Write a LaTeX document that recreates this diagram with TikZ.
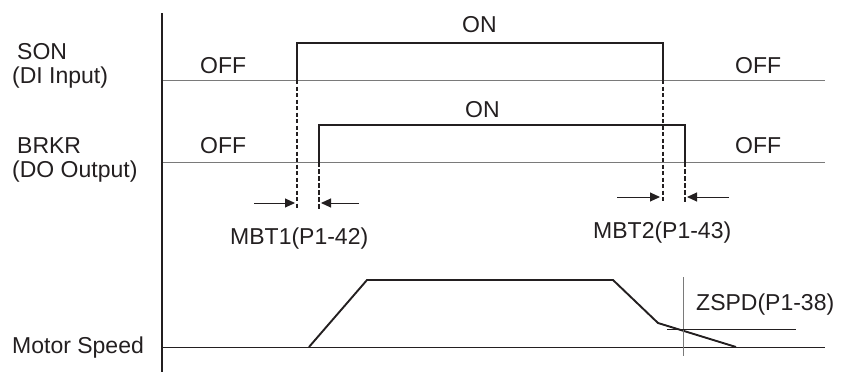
\documentclass[tikz,border=0pt]{standalone}
\usepackage{fontspec}
\setmainfont{Liberation Sans}
\usetikzlibrary{arrows.meta}
\definecolor{ink}{HTML}{231F20}
\definecolor{baseln}{HTML}{7A7A7A}
\begin{document}
\begin{tikzpicture}[x=1pt,y=-1pt,
  lbl/.style={text=ink,inner sep=0pt,anchor=base west,font=\fontsize{23}{27}\selectfont},
  sig/.style={draw=ink,line width=2pt},
  baseline/.style={draw=baseln,line width=1pt},
  axisline/.style={draw=ink,line width=1.2pt},
  guide/.style={draw=ink,line width=1.3pt,dash pattern=on 4pt off 2.5pt},
  guidethick/.style={draw=ink,line width=1.8pt,dash pattern=on 4.5pt off 2.5pt},
  dimarrow/.style={draw=ink,line width=1pt,-{Triangle[length=10pt,width=9pt]}},
  thin/.style={draw=ink,line width=0.9pt},
  thingray/.style={draw=baseln,line width=0.9pt}]
\useasboundingbox (0,0) rectangle (843,372);

% axis
\coordinate (axT) at (162,13);
\coordinate (axB) at (162,372);
\draw[axisline] (axT) -- (axB);

% labels
\node[lbl] (son) at (17,59) {SON};
\node[lbl] (soni) at (12,83) {(DI Input)};
\node[lbl] (brkr) at (17,153) {BRKR};
\node[lbl] (brkro) at (12,177) {(DO Output)};
\node[lbl] (ms) at (12,353) {Motor Speed};

\node[lbl] (off1) at (200,73) {OFF};
\node[lbl] (off2) at (735,73) {OFF};
\node[lbl] (on1) at (462,32) {ON};
\node[lbl] (off3) at (200,153) {OFF};
\node[lbl] (off4) at (735,153) {OFF};
\node[lbl] (on2) at (465,117) {ON};
\node[lbl] (mbt1) at (230,244) {MBT1(P1-42)};
\node[lbl] (mbt2) at (593,238) {MBT2(P1-43)};
\node[lbl] (zspd) at (696,310) {ZSPD(P1-38)};

% SON
\coordinate (s0) at (163,80);
\coordinate (s5) at (825,80);
\coordinate (sr) at (297,80);
\coordinate (srh) at (297,43);
\coordinate (sfh) at (663,43);
\coordinate (sf) at (663,80);
\draw[baseline] (s0) -- (s5);
\draw[sig] (sr) -- (srh) -- (sfh) -- (sf);

% BRKR
\coordinate (b0) at (163,162);
\coordinate (b5) at (825,162);
\coordinate (br) at (319,162);
\coordinate (brh) at (319,125);
\coordinate (bfh) at (685,125);
\coordinate (bf) at (685,162);
\draw[baseline] (b0) -- (b5);
\draw[sig] (br) -- (brh) -- (bfh) -- (bf);

% guides
\coordinate (g1) at (297,209);
\coordinate (g2) at (319,209);
\coordinate (g3t) at (663,80);
\coordinate (g3) at (663,203);
\coordinate (g4) at (685,203);
\draw[guide] (sr) -- (g1);
\draw[guidethick] (br) -- (g2);
\draw[guide] (g3t) -- (g3);
\draw[guidethick] (bf) -- (g4);

% arrows
\coordinate (a1s) at (254,203);
\coordinate (a1e) at (295,203);
\coordinate (a2s) at (359,203);
\coordinate (a2e) at (321,203);
\coordinate (a3s) at (617,197);
\coordinate (a3e) at (660,197);
\coordinate (a4s) at (729,197);
\coordinate (a4e) at (687,197);
\draw[dimarrow] (a1s) -- (a1e);
\draw[dimarrow] (a2s) -- (a2e);
\draw[dimarrow] (a3s) -- (a3e);
\draw[dimarrow] (a4s) -- (a4e);

% motor speed
\coordinate (m0) at (163,347);
\coordinate (m5) at (825,347);
\coordinate (p1) at (309,347);
\coordinate (p2) at (367,280);
\coordinate (p3) at (613,280);
\coordinate (p4) at (658,323);
\coordinate (p5) at (736,347);
\draw[baseline,draw=ink] (m0) -- (m5);
\draw[sig,line width=1.9pt,line join=miter] (p1) -- (p2) -- (p3) -- (p4) -- (p5);
\coordinate (zvT) at (683,277);
\coordinate (zvB) at (683,356);
\coordinate (zhL) at (667,329);
\coordinate (zhR) at (796,329);
\draw[thingray] (zvT) -- (zvB);
\draw[thin] (zhL) -- (zhR);
\end{tikzpicture}
\end{document}
